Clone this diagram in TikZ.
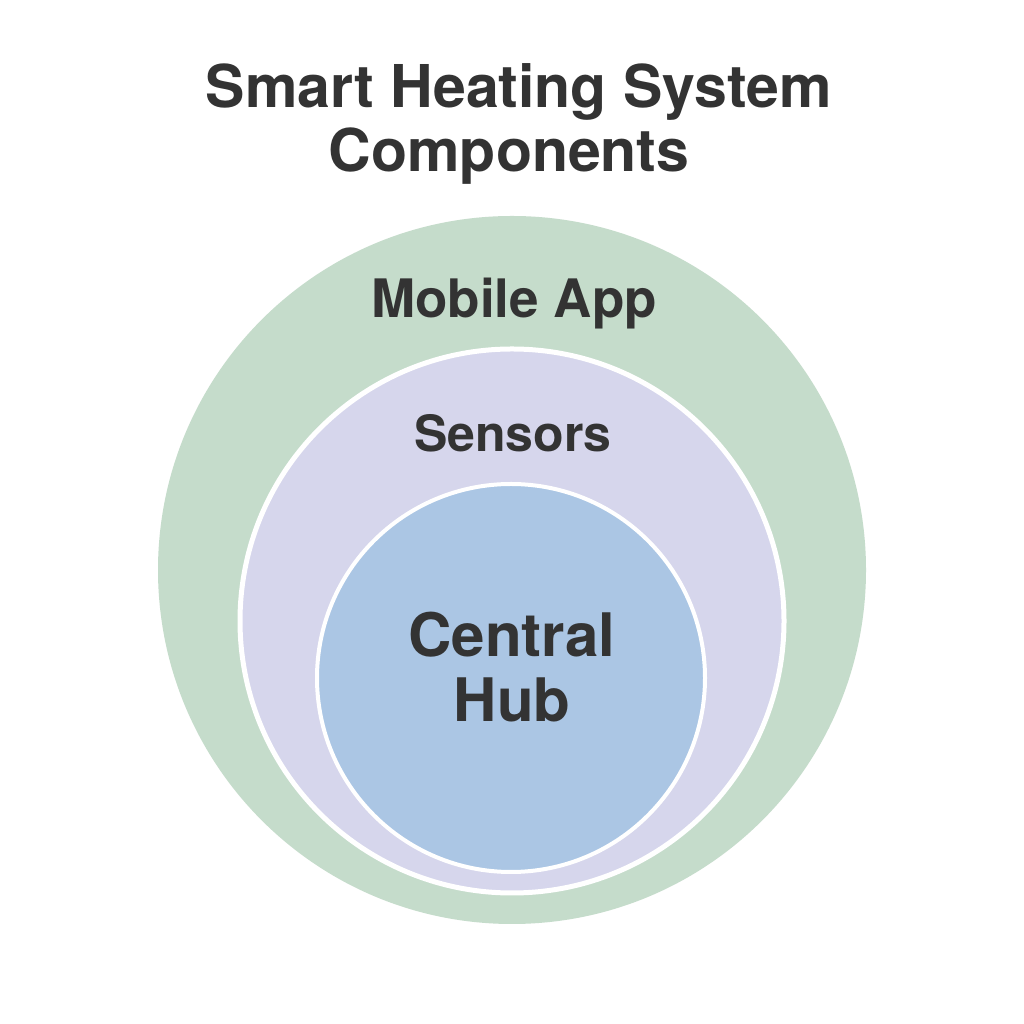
\documentclass[tikz,border=0pt]{standalone}
\usepackage{fontspec}
\setmainfont{TeX Gyre Heros}
\definecolor{ringgreen}{HTML}{C5DCCB}
\definecolor{ringlav}{HTML}{D6D6EC}
\definecolor{ringblue}{HTML}{ABC6E4}
\definecolor{txt}{HTML}{333333}
\begin{document}
\begin{tikzpicture}[x=1pt,y=1pt,
  ring/.style={circle,inner sep=0pt,draw=white,line width=5pt},
  lbl/.style={anchor=base,text=txt,font=\bfseries\fontsize{59}{64}\selectfont,inner sep=0pt}]
\useasboundingbox (0,0) rectangle (1024,1024);
\fill[white] (0,0) rectangle (1024,1024);
\node[circle,inner sep=0pt,fill=ringgreen,minimum size=708pt] (outer) at (512,454) {};
\node[ring,fill=ringlav,minimum size=544pt] (mid) at (512,403) {};
\node[ring,fill=ringblue,minimum size=388pt,line width=4pt] (inner) at (511,346) {};
\node[lbl] (t1) at (519,916) {Smart Heating System};
\node[lbl] (t2) at (509,852) {Components};
\node[lbl,font=\bfseries\fontsize{53}{60}\selectfont] (app) at (514,706) {Mobile App};
\node[lbl,font=\bfseries\fontsize{50}{60}\selectfont] (sens) at (513,572) {Sensors};
\node[lbl,font=\bfseries\fontsize{60}{66}\selectfont] (hub1) at (512,367) {Central};
\node[lbl,font=\bfseries\fontsize{60}{66}\selectfont] (hub2) at (512,302) {Hub};
\end{tikzpicture}
\end{document}
